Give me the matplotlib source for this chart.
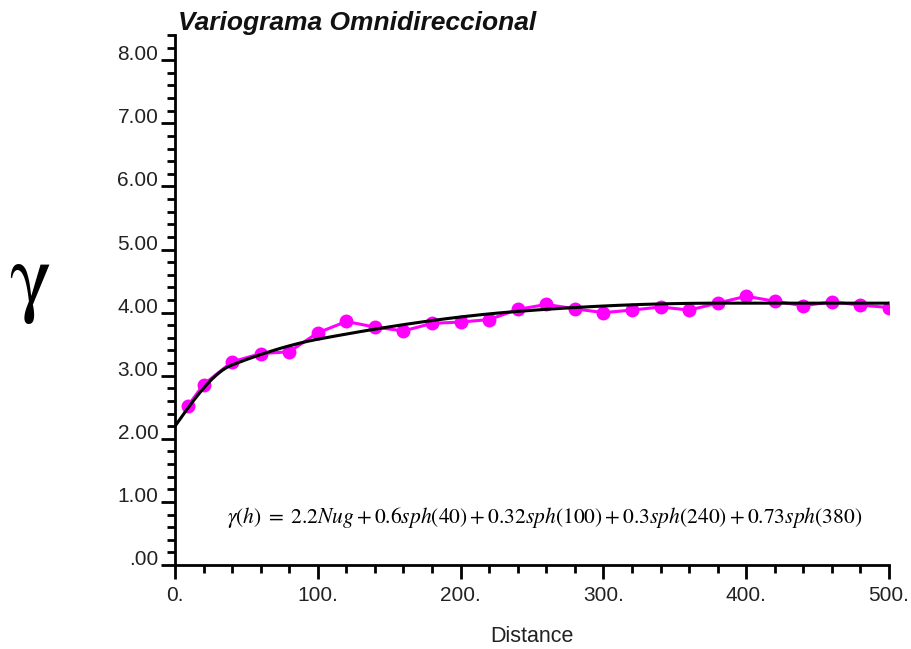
import numpy as np
import matplotlib
matplotlib.use("Agg")
import matplotlib.pyplot as plt
from matplotlib.ticker import MultipleLocator, FixedLocator

# Experimental variogram (lag distance, gamma)
lags = [9, 20, 40, 60, 80, 100, 120, 140, 160, 180, 200, 220, 240, 260, 280,
        300, 320, 340, 360, 380, 400, 420, 440, 460, 480, 500]
gammas = [2.52, 2.86, 3.22, 3.35, 3.38, 3.68, 3.86, 3.77, 3.71, 3.83, 3.85, 3.89,
          4.05, 4.13, 4.06, 4.00, 4.04, 4.09, 4.04, 4.15, 4.26, 4.18, 4.11, 4.17,
          4.12, 4.08]

# Fitted model parameters (from the equation shown on the chart)
nugget = 2.2
sills = [0.6, 0.32, 0.3, 0.73]
ranges = [40, 100, 240, 380]

yticks = [0, 1, 2, 3, 4, 5, 6, 7, 8]
ytick_labels = [".00", "1.00", "2.00", "3.00", "4.00", "5.00", "6.00", "7.00", "8.00"]
xticks = [0, 100, 200, 300, 400, 500]
xtick_labels = ["0.", "100.", "200.", "300.", "400.", "500."]


def sph(h, a):
    r = np.clip(h / a, 0, 1)
    return 1.5 * r - 0.5 * r ** 3


h = np.linspace(0, 500, 501)
model = nugget + sum(c * sph(h, a) for c, a in zip(sills, ranges))

plt.rcParams["mathtext.fontset"] = "stix"

fig = plt.figure(figsize=(9.11, 6.49), dpi=100)
ax = fig.add_axes([175 / 911, 1 - 565 / 649, (889 - 175) / 911, (565 - 35) / 649])

ax.plot(lags, gammas, color="#ff00ff", lw=2.2, marker="o", ms=9, zorder=2)
ax.plot(h, model, color="black", lw=2.2, zorder=3)

ax.set_xlim(0, 500)
ax.set_ylim(0, 8.4)
for s in ["top", "right"]:
    ax.spines[s].set_visible(False)
for s in ["left", "bottom"]:
    ax.spines[s].set_linewidth(2)

ax.yaxis.set_major_locator(FixedLocator(yticks))
ax.set_yticklabels(ytick_labels, fontfamily="Liberation Sans", fontsize=15, color="#222222")
ax.yaxis.set_minor_locator(MultipleLocator(0.2))
ax.xaxis.set_major_locator(FixedLocator(xticks))
ax.set_xticklabels(xtick_labels, fontfamily="Liberation Sans", fontsize=15, color="#222222")
ax.xaxis.set_minor_locator(MultipleLocator(20))

ax.tick_params(axis="both", which="major", direction="out", length=10, width=2, pad=2)
ax.tick_params(axis="both", which="minor", direction="out", length=6, width=2)
ax.tick_params(axis="x", which="major", pad=5)
for lab in ax.get_yticklabels():
    lab.set_va("baseline")

ax.text(0.004, 1.0, "Variograma Omnidireccional", transform=ax.transAxes,
        fontfamily="Liberation Sans", fontsize=19, fontweight="bold", fontstyle="italic",
        ha="left", va="bottom", color="#111111")

fig.text(532 / 911, 1 - 636 / 649, "Distance", fontfamily="Liberation Sans",
         fontsize=15.5, ha="center", va="center", color="#222222")

fig.text(30 / 911, 1 - 284 / 649, "γ", fontfamily=["STIXGeneral", "DejaVu Serif"],
         fontsize=64, ha="center", va="center", color="black")

ax.text(259, 0.75,
        r"$\gamma(h)\;=\;2.2Nug+0.6sph(40)+0.32sph(100)+0.3sph(240)+0.73sph(380)$",
        fontsize=15.5, ha="center", va="center", color="black")

fig.savefig("out.png", dpi=100)
